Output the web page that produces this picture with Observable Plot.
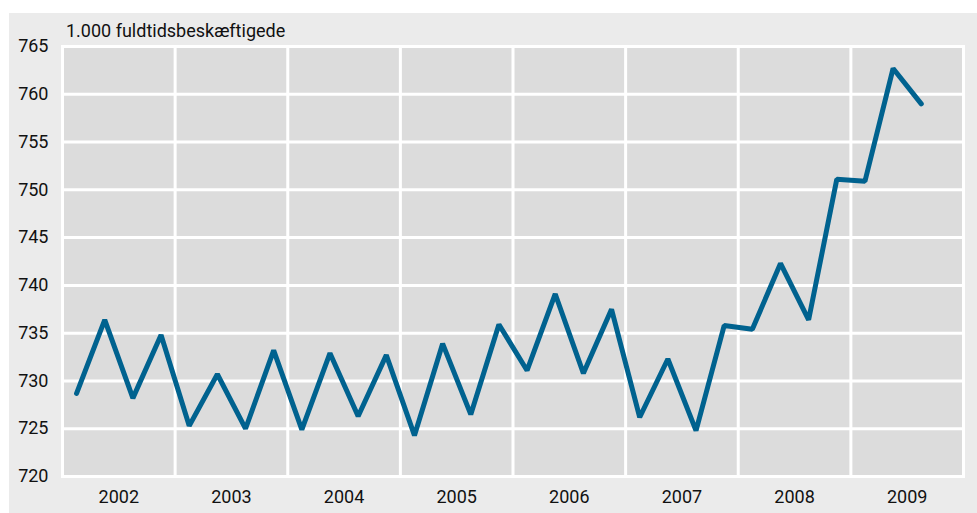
<!DOCTYPE html>
<html>
<head>
<meta charset="utf-8">
<script src="https://cdn.jsdelivr.net/npm/d3@7"></script>
<script src="https://cdn.jsdelivr.net/npm/@observablehq/plot@0.6"></script>
<style>
  html, body { margin: 0; padding: 0; background: #ffffff; }
  #wrap { position: absolute; left: 9px; top: 13px; width: 968px; height: 500px; background: #ebebeb; }
  #title { position: absolute; left: 57px; top: 7px; font-family: Roboto, sans-serif; font-size: 18px; color: #111; white-space: nowrap; }
  #chart { position: absolute; left: 0; top: 0; }
</style>
</head>
<body>
<div id="wrap">
  <div id="chart"></div>
  <div id="title">1.000 fuldtidsbeskæftigede</div>
</div>
<script>
const years = [2002, 2003, 2004, 2005, 2006, 2007, 2008, 2009];
const quarters = [
  "2002K1","2002K2","2002K3","2002K4",
  "2003K1","2003K2","2003K3","2003K4",
  "2004K1","2004K2","2004K3","2004K4",
  "2005K1","2005K2","2005K3","2005K4",
  "2006K1","2006K2","2006K3","2006K4",
  "2007K1","2007K2","2007K3","2007K4",
  "2008K1","2008K2","2008K3","2008K4",
  "2009K1","2009K2","2009K3"
];
const values = [
  728.7, 736.4, 728.2, 734.8,
  725.3, 730.7, 725.0, 733.2,
  724.9, 732.9, 726.3, 732.7,
  724.3, 733.9, 726.5, 735.9,
  731.1, 739.1, 730.8, 737.5,
  726.2, 732.3, 724.8, 735.8,
  735.4, 742.3, 736.4, 751.1,
  750.9, 762.7, 759.0
];
const yTicks = [720, 725, 730, 735, 740, 745, 750, 755, 760, 765];

const data = quarters.map((q, i) => {
  const yr = +q.slice(0, 4), k = +q.slice(5);
  return { t: yr + (k - 0.5) / 4, v: values[i] };
});

const chart = Plot.plot({
  width: 968,
  height: 500,
  marginLeft: 53,
  marginRight: 14,
  marginTop: 33,
  marginBottom: 37,
  style: { background: "transparent", fontFamily: "Roboto, sans-serif", fontSize: "18px", color: "#111" },
  x: { domain: [years[0], years[years.length - 1] + 1] },
  y: { domain: [720, 765] },
  marks: [
    Plot.frame({ fill: "#dcdcdc", stroke: "white", strokeWidth: 3 }),
    Plot.gridY(yTicks.slice(1, -1), { stroke: "white", strokeOpacity: 1, strokeWidth: 3 }),
    Plot.gridX(years.slice(1), { stroke: "white", strokeOpacity: 1, strokeWidth: 3 }),
    Plot.axisY(yTicks, { tickSize: 0, tickPadding: 14, label: null, fontSize: 18 }),
    Plot.axisX(years.map(y => y + 0.5), { tickSize: 0, tickPadding: 14, label: null, tickFormat: d => String(Math.floor(d)), fontSize: 18 }),
    Plot.line(data, { x: "t", y: "v", stroke: "#00628f", strokeWidth: 5, strokeLinecap: "round", strokeLinejoin: "miter" })
  ]
});
document.getElementById("chart").appendChild(chart);
</script>
</body>
</html>
